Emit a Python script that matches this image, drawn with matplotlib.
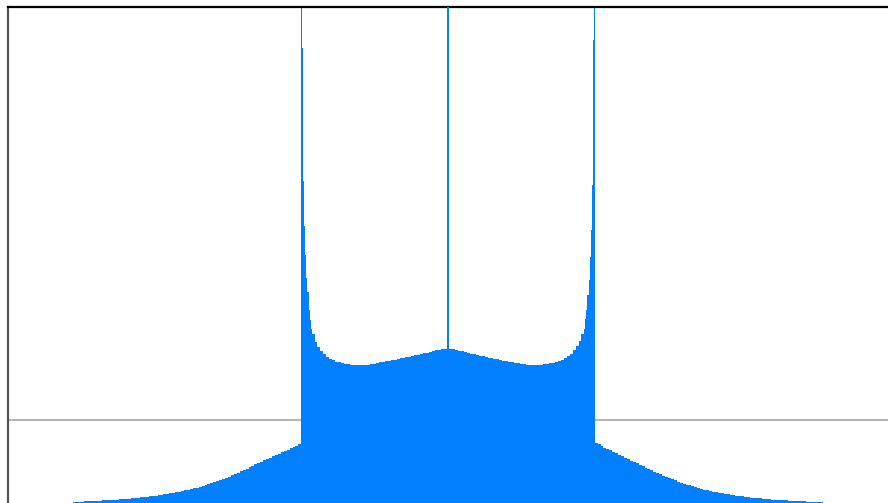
import matplotlib
matplotlib.use("Agg")
import matplotlib.pyplot as plt
import numpy as np

# histograma: colas exteriores, bordes (picos) y zona central
cola_izq = [0.012, 0.014, 0.015, 0.017, 0.019, 0.021, 0.023, 0.025, 0.027, 0.029,
            0.031, 0.033, 0.035, 0.037, 0.039, 0.041, 0.044, 0.047, 0.050, 0.053,
            0.056, 0.060, 0.063, 0.067, 0.071, 0.075, 0.080, 0.085, 0.090, 0.096,
            0.101, 0.107, 0.113, 0.119, 0.125, 0.132, 0.138, 0.145, 0.152, 0.160,
            0.168, 0.177, 0.186, 0.195, 0.205, 0.216, 0.227, 0.238, 0.250, 0.262,
            0.275, 0.289, 0.303, 0.318, 0.333, 0.349, 0.366, 0.382, 0.399, 0.416,
            0.433, 0.450, 0.467, 0.484, 0.501, 0.517, 0.533, 0.549, 0.564, 0.580,
            0.596, 0.612, 0.628, 0.644, 0.660, 0.677, 0.694, 0.712]
borde_izq = [9.0, 5.5, 3.9, 3.35, 3.0, 2.72, 2.55, 2.34, 2.21, 2.10]
centro = [2.04, 1.95, 1.89, 1.84, 1.80, 1.77, 1.745, 1.725, 1.71, 1.70,
          1.69, 1.685, 1.68, 1.675, 1.67, 1.67, 1.668, 1.67, 1.672, 1.675,
          1.68, 1.685, 1.69, 1.70, 1.705, 1.712, 1.72, 1.727, 1.735, 1.742,
          1.75, 1.757, 1.764, 1.771, 1.778, 1.786, 1.794, 1.802, 1.81, 1.82,
          1.83, 1.838, 1.846, 1.853, 1.86, 1.866, 1.87, 1.864, 1.857, 1.85,
          1.842, 1.834, 1.826, 1.817, 1.808, 1.80, 1.792, 1.784, 1.776, 1.768,
          1.76, 1.752, 1.745, 1.738, 1.73, 1.722, 1.715, 1.708, 1.70, 1.694,
          1.688, 1.683, 1.678, 1.674, 1.67, 1.668, 1.668, 1.67, 1.673, 1.677,
          1.682, 1.688, 1.695, 1.704, 1.715, 1.73, 1.75, 1.775, 1.805, 1.845,
          1.895, 1.955, 2.04]
borde_der = [2.11, 2.22, 2.33, 2.52, 2.70, 2.98, 3.30, 3.85, 5.6, 9.0]
cola_der = [0.728, 0.708, 0.690, 0.671, 0.653, 0.636, 0.618, 0.600, 0.583, 0.565,
            0.548, 0.530, 0.513, 0.496, 0.479, 0.462, 0.445, 0.428, 0.411, 0.394,
            0.378, 0.362, 0.346, 0.331, 0.316, 0.301, 0.287, 0.273, 0.260, 0.247,
            0.235, 0.223, 0.212, 0.201, 0.191, 0.181, 0.172, 0.163, 0.155, 0.147,
            0.139, 0.132, 0.125, 0.118, 0.112, 0.106, 0.100, 0.094, 0.089, 0.084,
            0.079, 0.074, 0.070, 0.066, 0.062, 0.058, 0.055, 0.051, 0.048, 0.045,
            0.042, 0.040, 0.037, 0.035, 0.033, 0.031, 0.029, 0.027, 0.025, 0.023,
            0.021, 0.020, 0.018, 0.017, 0.015, 0.014, 0.013, 0.012]
pico_centro = 9.0
linea_ref = 1.0

bordes = np.concatenate([
    np.linspace(-2.56, -1.0, len(cola_izq) + 1),
    np.linspace(-1.0, -0.93, len(borde_izq) + 1)[1:],
    np.linspace(-0.93, 0.93, len(centro) + 1)[1:],
    np.linspace(0.93, 1.0, len(borde_der) + 1)[1:],
    np.linspace(1.0, 2.56, len(cola_der) + 1)[1:],
])
valores = np.array(cola_izq + borde_izq + centro + borde_der + cola_der)

fig = plt.figure(figsize=(8.88, 5.03), dpi=100)
ax = fig.add_axes([8 / 888, 0, 880 / 888, 496 / 503])

color = "#0080FF"
ax.axhline(linea_ref, color="#A8A8A8", linewidth=1.2, zorder=1)
ax.stairs(valores, bordes, fill=True, color=color, zorder=2)
# pico central (línea fina)
ax.bar([0.0], [pico_centro], width=0.007, color=color, linewidth=0, zorder=3)

ax.set_xlim(-3, 3)
ax.set_ylim(0, 6)
ax.set_xticks([])
ax.set_yticks([])
ax.spines["right"].set_visible(False)
ax.spines["bottom"].set_visible(False)
ax.spines["top"].set_color("black")
ax.spines["top"].set_linewidth(1.6)
ax.spines["left"].set_color("#555555")
ax.spines["left"].set_linewidth(1.6)

fig.savefig("out.png", dpi=100)
